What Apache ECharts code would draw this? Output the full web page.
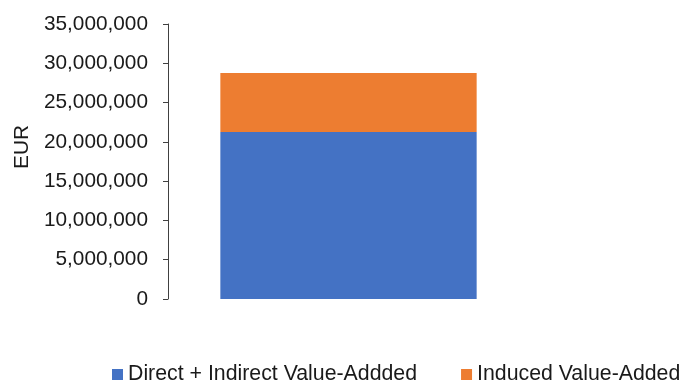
<!DOCTYPE html>
<html>
<head>
<meta charset="utf-8">
<script src="https://cdn.jsdelivr.net/npm/echarts@6/dist/echarts.min.js"></script>
<style>
  html, body { margin: 0; padding: 0; background: #fff; }
  #chart { width: 682px; height: 382px; }
</style>
</head>
<body>
<div id="chart"></div>
<script>
// Value-added totals (EUR), stacked in a single column
const categories = [''];
const directIndirect = [21250000];
const induced = [7500000];
const seriesNames = ['Direct + Indirect Value-Addded', 'Induced Value-Added'];
const axisTitle = 'EUR';

const FONT = 'Liberation Sans, Arial, sans-serif';

const chart = echarts.init(document.getElementById('chart'));
chart.setOption({
  animation: false,
  textStyle: { fontFamily: FONT },
  grid: { left: 168, right: 153, top: 24, bottom: 83, containLabel: false },
  xAxis: {
    type: 'category',
    data: categories,
    axisLine: { show: false },
    axisTick: { show: false },
    axisLabel: { show: false }
  },
  yAxis: {
    type: 'value',
    min: 0,
    max: 35000000,
    interval: 5000000,
    axisLine: { show: true, lineStyle: { color: '#404040', width: 1 } },
    axisTick: { show: true, length: 5, lineStyle: { color: '#404040' } },
    splitLine: { show: false },
    axisLabel: {
      color: '#1a1a1a',
      fontSize: 20.8,
      fontFamily: FONT,
      margin: 20,
      formatter: v => v.toLocaleString('en-US')
    }
  },
  legend: {
    left: 112,
    top: 364,
    itemWidth: 11,
    itemHeight: 11,
    itemGap: 44,
    icon: 'rect',
    textStyle: { fontSize: 21.3, color: '#1a1a1a', fontFamily: FONT },
    padding: 0,
    data: seriesNames
  },
  graphic: [{
    type: 'text',
    left: 12,
    top: 125,
    rotation: Math.PI / 2,
    style: { text: axisTitle, font: '20.8px ' + FONT, fill: '#1a1a1a' }
  }],
  series: [
    {
      name: seriesNames[0],
      type: 'bar',
      stack: 'total',
      barWidth: '71%',
      itemStyle: { color: '#4472C4' },
      data: directIndirect
    },
    {
      name: seriesNames[1],
      type: 'bar',
      stack: 'total',
      barWidth: '71%',
      itemStyle: { color: '#ED7D31' },
      data: induced
    }
  ]
});
</script>
</body>
</html>
